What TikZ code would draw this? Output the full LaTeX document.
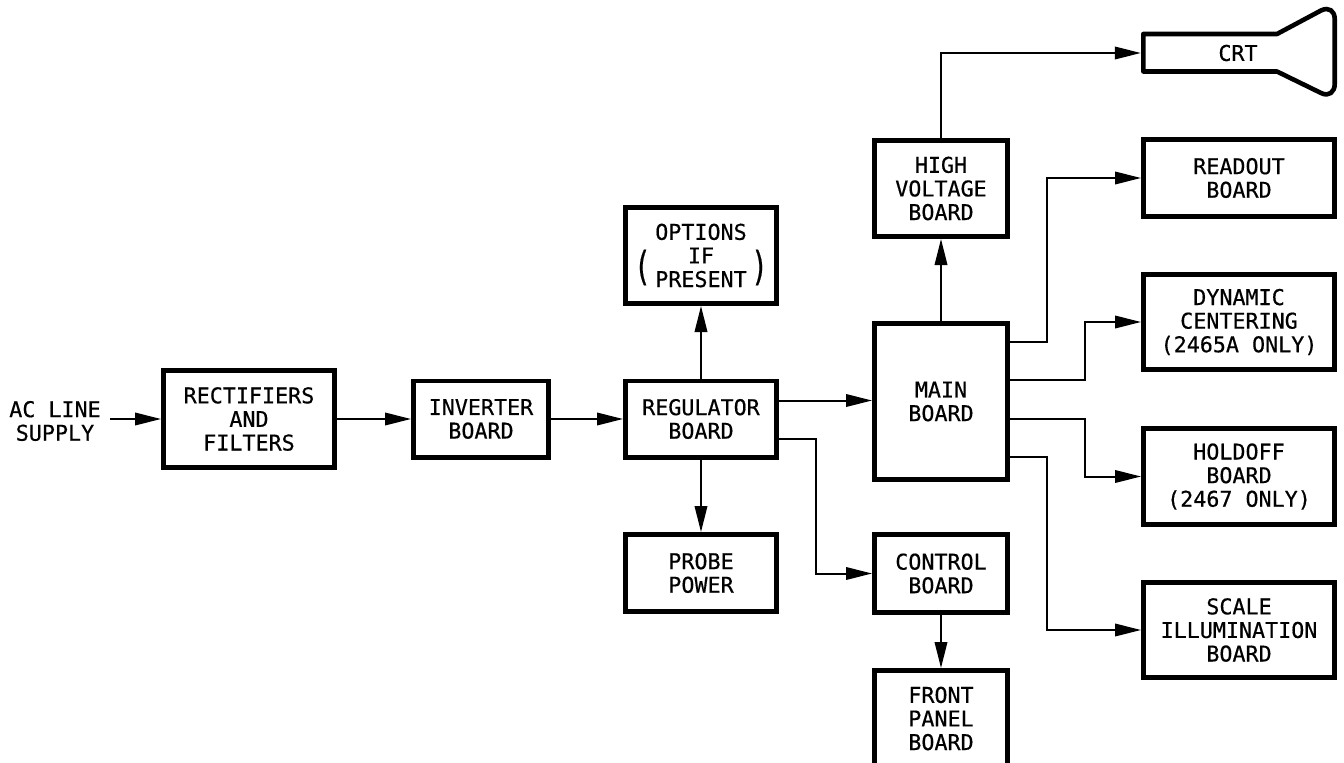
\documentclass[tikz,border=0pt]{standalone}
\usepackage{fontspec}
\setmainfont[RawFeature={embolden=0.5}]{DejaVu Sans Mono}
\usetikzlibrary{arrows.meta,calc}
\tikzset{
  x=1pt,y=-1pt,
  blockbox/.style={draw=black,line width=4.6pt,fill=white,align=center,inner sep=0pt,
    font=\fontsize{21.7}{23.6}\selectfont,text=black},
  plainlabel/.style={align=center,inner sep=0pt,font=\fontsize{21.7}{23.6}\selectfont,text=black},
  bigparen/.style={inner sep=0pt,font=\fontsize{21.7}{22}\selectfont,text=black,xscale=1.3,yscale=1.85,transform shape},
  conn/.style={draw=black,line width=2pt,-{Triangle[length=26pt,width=12.5pt]}},
  tubeline/.style={draw=black,line width=4.6pt,line join=round}
}
\begin{document}
\begin{tikzpicture}
\useasboundingbox[fill=white] (0,0) rectangle (1344,763);
\clip (0,0) rectangle (1344,763);
% blocks
\node[plainlabel] (ac) at (55,421) {AC LINE\\SUPPLY};
\node[blockbox,minimum width=171.4pt,minimum height=97.4pt] (rect) at (249,419) {RECTIFIERS\\AND\\FILTERS};
\node[blockbox,minimum width=135.4pt,minimum height=76.4pt] (inv) at (481,419) {INVERTER\\BOARD};
\node[blockbox,minimum width=151.4pt,minimum height=76.4pt] (reg) at (701,419) {REGULATOR\\BOARD};
\node[blockbox,minimum width=151.4pt,minimum height=96.4pt] (opt) at (701,255.5) {OPTIONS\\IF\\PRESENT};
\node[bigparen] (lp) at (642.5,267.5) {(};
\node[bigparen] (rp) at (759.5,267.5) {)};
\node[blockbox,minimum width=151.4pt,minimum height=77.4pt] (probe) at (701,573) {PROBE\\POWER};
\node[blockbox,minimum width=133.4pt,minimum height=156.4pt] (main) at (941,401.5) {MAIN\\BOARD};
\node[blockbox,minimum width=133.4pt,minimum height=96.4pt] (hv) at (941,188.5) {HIGH\\VOLTAGE\\BOARD};
\node[blockbox,minimum width=133.4pt,minimum height=78.4pt] (ctrl) at (941,573.5) {CONTROL\\BOARD};
\node[blockbox,minimum width=133.4pt,minimum height=96.4pt] (front) at (941,718.5) {FRONT\\PANEL\\BOARD};
\node[blockbox,minimum width=191.4pt,minimum height=77.4pt] (read) at (1239,178) {READOUT\\BOARD};
\node[blockbox,minimum width=191.4pt,minimum height=95.4pt] (dyn) at (1239,322) {DYNAMIC\\CENTERING\\(2465A ONLY)};
\node[blockbox,minimum width=191.4pt,minimum height=96.4pt] (hold) at (1239,476.5) {HOLDOFF\\BOARD\\(2467 ONLY)};
\node[blockbox,minimum width=191.4pt,minimum height=95.4pt] (scale) at (1239,630) {SCALE\\ILLUMINATION\\BOARD};
% CRT
\node[plainlabel,minimum width=194pt,minimum height=40pt] (crt) at (1238,53) {CRT};
\draw[tubeline] (1143.3,34) -- (1277,34) -- (1321,10.5)
  .. controls (1329,6.5) and (1334.7,11) .. (1334.7,19)
  -- (1334.7,84)
  .. controls (1334.7,92) and (1329,97) .. (1321,93)
  -- (1277,71.5) -- (1143.3,71.5) -- cycle;
% connector start points
\coordinate (acout) at (110,419);
\coordinate (r1) at (reg.east |- 0,400.5);
\coordinate (r2) at (reg.east |- 0,439);
\coordinate (m1) at (main.east |- 0,342);
\coordinate (m2) at (main.east |- 0,380);
\coordinate (m3) at (main.east |- 0,419);
\coordinate (m4) at (main.east |- 0,457);
% connectors
\draw[conn] (acout) -- (acout -| rect.west);
\draw[conn] (rect.east) -- (inv.west);
\draw[conn] (inv.east) -- (reg.west);
\draw[conn] (reg.north) -- (opt.south);
\draw[conn] (reg.south) -- (probe.north);
\draw[conn] (r1) -- (r1 -| main.west);
\draw[conn] (r2) -- (816,439) |- (ctrl.west);
\draw[conn] (ctrl.south) -- (front.north);
\draw[conn] (main.north) -- (hv.south);
\draw[conn] (hv.north) |- (crt.west);
\draw[conn] (m1) -- (1047,342) |- (read.west);
\draw[conn] (m2) -- (1085,380) |- (dyn.west);
\draw[conn] (m3) -- (1085,419) |- (hold.west);
\draw[conn] (m4) -- (1047,457) |- (scale.west);
\end{tikzpicture}
\end{document}
